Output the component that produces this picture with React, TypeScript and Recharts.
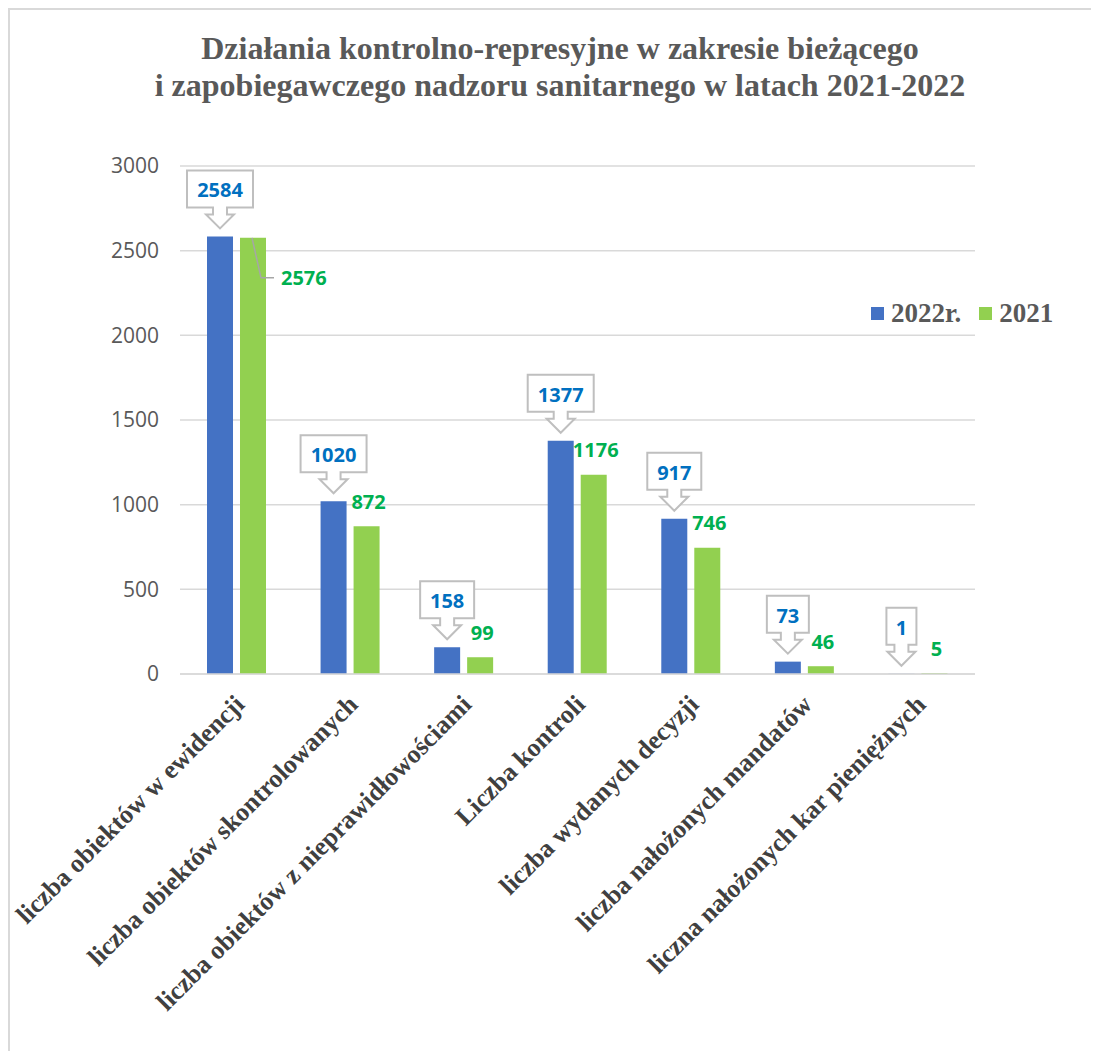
import React from 'react';
import { BarChart, Bar, XAxis, YAxis, CartesianGrid, Legend, LabelList } from 'recharts';

const categories: string[] = [
  'liczba obiektów w ewidencji',
  'liczba obiektów skontrolowanych',
  'liczba obiektów z nieprawidłowościami',
  'Liczba kontroli',
  'liczba wydanych decyzji',
  'liczba nałożonych mandatów',
  'liczna nałożonych kar pieniężnych',
];
const values2022: number[] = [2584, 1020, 158, 1377, 917, 73, 1];
const values2021: number[] = [2576, 872, 99, 1176, 746, 46, 5];
const yTicks: number[] = [0, 500, 1000, 1500, 2000, 2500, 3000];
const seriesNames = { a: '2022r.', b: '2021' };
const titleLines: string[] = [
  'Działania kontrolno-represyjne w zakresie bieżącego',
  'i zapobiegawczego nadzoru sanitarnego w latach 2021-2022',
];

const data = categories.map((c, i) => ({ name: c, v2022: values2022[i], v2021: values2021[i] }));

const BLUE = '#4472C4';
const GREEN = '#92D050';
const SERIF = '"Liberation Serif", "Times New Roman", serif';
const SANS = '"Open Sans", "Noto Sans", sans-serif';

const CatTick = (props: any) => {
  const { x, y, payload } = props;
  return (
    <g transform={`translate(${x + 9},${y + 32})`}>
      <text
        transform="rotate(-45)"
        textAnchor="end"
        fontFamily={SERIF}
        fontWeight="bold"
        fontSize={26}
        fill="#404040"
      >
        {payload.value}
      </text>
    </g>
  );
};

const BlueCallout = (props: any) => {
  const { x, y, width, value } = props;
  const cx = Number(x) + Number(width) / 2;
  const top = Number(y);
  const s = String(value);
  const w = Math.max(29, 12 * s.length + 18);
  const bTop = top - 66;
  const bBot = top - 29;
  const l = cx - w / 2;
  const r = cx + w / 2;
  const d = `M${l},${bTop} H${r} V${bBot} H${cx + 7} V${bBot + 7} H${cx + 14} L${cx},${top - 8} L${cx - 14},${bBot + 7} H${cx - 7} V${bBot} H${l} Z`;
  return (
    <g>
      <path d={d} fill="#fff" stroke="#bfbfbf" strokeWidth={2} strokeLinejoin="miter" />
      <text
        x={cx}
        y={(bTop + bBot) / 2 + 1}
        textAnchor="middle"
        dominantBaseline="central"
        fontFamily={SANS}
        fontWeight="bold"
        fontSize={20}
        fill="#0070C0"
      >
        {s}
      </text>
    </g>
  );
};

const GreenLabel = (props: any) => {
  const { x, y, width, value, index } = props;
  const cx = Number(x) + Number(width) / 2;
  const top = Number(y);
  if (index === 0) {
    const ty = top + 40;
    return (
      <g>
        <polyline
          points={`${cx - 1},${top} ${cx + 8},${ty} ${cx + 21},${ty}`}
          fill="none"
          stroke="#a6a6a6"
          strokeWidth={1.5}
        />
        <text
          x={cx + 28}
          y={ty}
          textAnchor="start"
          dominantBaseline="central"
          fontFamily={SANS}
          fontWeight="bold"
          fontSize={20}
          fill="#00B050"
        >
          {value}
        </text>
      </g>
    );
  }
  return (
    <text
      x={cx + 2}
      y={top - 25}
      textAnchor="middle"
      dominantBaseline="central"
      fontFamily={SANS}
      fontWeight="bold"
      fontSize={20}
      fill="#00B050"
    >
      {value}
    </text>
  );
};

const LegendContent = () => (
  <div style={{ display: 'flex', alignItems: 'center', fontFamily: SERIF, fontWeight: 'bold', fontSize: 27, lineHeight: '30px', color: '#595959', whiteSpace: 'nowrap' }}>
    <span style={{ display: 'inline-block', width: 13, height: 13, background: BLUE, marginRight: 7 }} />
    <span style={{ marginRight: 18 }}>{seriesNames.a}</span>
    <span style={{ display: 'inline-block', width: 13, height: 13, background: GREEN, marginRight: 7 }} />
    <span>{seriesNames.b}</span>
  </div>
);

export default function App() {
  return (
    <div
      style={{
        position: 'relative',
        width: 1083,
        height: 1043,
        borderLeft: '2px solid #d9d9d9',
        borderTop: '2px solid #d9d9d9',
        boxSizing: 'border-box',
        background: '#fff',
      }}
    >
      <div
        style={{
          position: 'absolute',
          left: 0,
          top: 20,
          width: 1100,
          textAlign: 'center',
          fontFamily: SERIF,
          fontWeight: 'bold',
          fontSize: 32,
          lineHeight: '37px',
          color: '#595959',
          zIndex: 2,
        }}
      >
        <div>{titleLines[0]}</div>
        <div>{titleLines[1]}</div>
      </div>
      <BarChart
        width={1081}
        height={1041}
        data={data}
        margin={{ top: 156, right: 116, left: 110, bottom: 77 }}
        barSize={26}
        barGap={7}
      >
        <CartesianGrid vertical={false} stroke="#d9d9d9" strokeWidth={1.5} />
        <XAxis
          dataKey="name"
          interval={0}
          height={300}
          tickLine={false}
          tickSize={0}
          tickMargin={0}
          axisLine={{ stroke: '#d9d9d9', strokeWidth: 1.5 }}
          tick={<CatTick />}
        />
        <YAxis
          width={60}
          domain={[0, 3000]}
          ticks={yTicks}
          axisLine={false}
          tickLine={false}
          tickSize={0}
          tickMargin={21}
          tick={{ fontFamily: SANS, fontSize: 21, fill: '#595959' }}
        />
        <Legend
          layout="horizontal"
          verticalAlign="middle"
          align="center"
          content={<LegendContent />}
          wrapperStyle={{ top: 288, left: 861, width: 'auto', right: 'auto' }}
        />
        <Bar dataKey="v2022" name={seriesNames.a} fill={BLUE} isAnimationActive={false}>
          <LabelList dataKey="v2022" content={<BlueCallout />} />
        </Bar>
        <Bar dataKey="v2021" name={seriesNames.b} fill={GREEN} isAnimationActive={false}>
          <LabelList dataKey="v2021" content={<GreenLabel />} />
        </Bar>
      </BarChart>
    </div>
  );
}
